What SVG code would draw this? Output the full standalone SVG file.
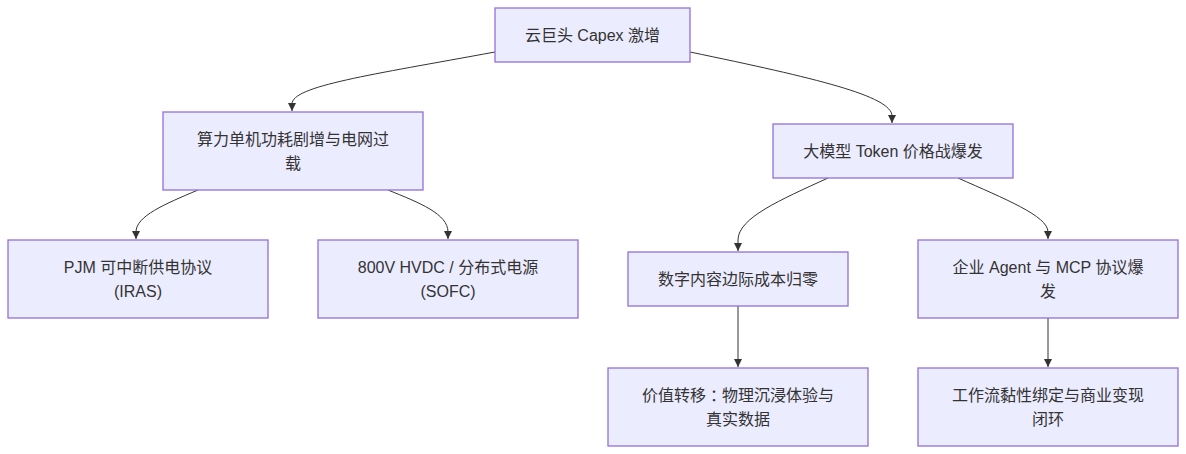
<svg xmlns="http://www.w3.org/2000/svg" width="1186" height="454" viewBox="0 0 1186 454">
<style>
.node rect{fill:#ECECFF;stroke:#9370DB;stroke-width:1.3}
.node text{font-family:"Liberation Sans","Noto Sans CJK SC",sans-serif;font-size:16px;fill:#333;text-anchor:middle;dominant-baseline:central}
.node tspan.tc{font-family:"Noto Sans CJK TC",sans-serif}
.edges path{fill:none;stroke:#333;stroke-width:1;marker-end:url(#arr)}
</style>
<defs>
<marker id="arr" viewBox="0 0 10 10" refX="10" refY="5" markerWidth="8" markerHeight="8" markerUnits="userSpaceOnUse" orient="auto">
<path d="M0,0 L10,5 L0,10 z" fill="#333"/>
</marker>
</defs>
<rect width="1186" height="454" fill="#fff"/>
<g class="edges">
<path d="M495,52 C370,75 292,86 292,104 L292,111"/>
<path d="M690,52 C815,78 892,96 892,116 L892,123"/>
<path d="M198,190 C165,204 136,216 136,232 L136,239"/>
<path d="M388,190 C420,203 448,214 448,232 L448,239"/>
<path d="M828,178 C780,200 738,218 738,240 L738,251"/>
<path d="M958,178 C1005,199 1048,216 1048,232 L1048,239"/>
<path d="M738,306 L738,367"/>
<path d="M1048,318 L1048,367"/>
</g>
<g id="n1" class="node"><rect x="495" y="8" width="195" height="54"/><text x="592.5" y="35">云巨头 Capex 激增</text></g>
<g id="n2" class="node"><rect x="163" y="112" width="260" height="78"/><text x="293" y="139">算力单机功耗剧增与电网过</text><text x="293" y="163">载</text></g>
<g id="n3" class="node"><rect x="773" y="124" width="240" height="54"/><text x="893" y="151">大模型 Token 价格战爆发</text></g>
<g id="n4" class="node"><rect x="8" y="240" width="260" height="78"/><text x="138" y="267">PJM 可中断供电协议</text><text x="138" y="291">(IRAS)</text></g>
<g id="n5" class="node"><rect x="318" y="240" width="260" height="78"/><text x="448" y="267">800V HVDC / 分布式电源</text><text x="448" y="291">(SOFC)</text></g>
<g id="n6" class="node"><rect x="628" y="252" width="220" height="54"/><text x="738" y="279">数字内容边际成本归零</text></g>
<g id="n7" class="node"><rect x="918" y="240" width="260" height="78"/><text x="1048" y="267">企业 Agent 与 MCP 协议爆</text><text x="1048" y="291">发</text></g>
<g id="n8" class="node"><rect x="608" y="368" width="260" height="78"/><text x="738" y="395">价值转移<tspan class="tc">：</tspan>物理沉浸体验与</text><text x="738" y="419">真实数据</text></g>
<g id="n9" class="node"><rect x="918" y="368" width="260" height="78"/><text x="1048" y="395">工作流黏性绑定与商业变现</text><text x="1048" y="419">闭环</text></g>
</svg>
